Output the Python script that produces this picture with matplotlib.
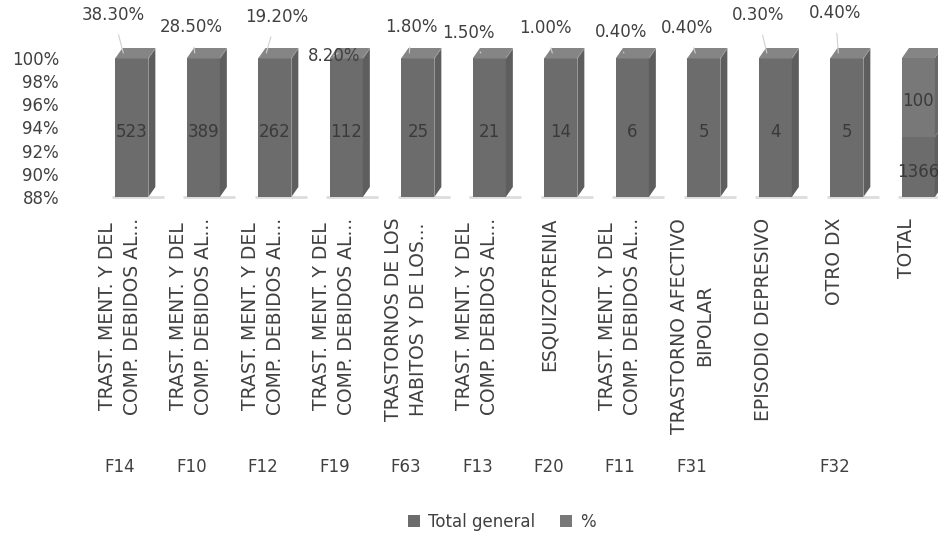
import matplotlib.pyplot as plt
import matplotlib.transforms as mtransforms
from matplotlib.patches import Polygon

plt.rcParams['font.family'] = ['DejaVu Sans']

# datos
categorias = ['TRAST. MENT. Y DEL\nCOMP. DEBIDOS AL...',
              'TRAST. MENT. Y DEL\nCOMP. DEBIDOS AL...',
              'TRAST. MENT. Y DEL\nCOMP. DEBIDOS AL...',
              'TRAST. MENT. Y DEL\nCOMP. DEBIDOS AL...',
              'TRASTORNOS DE LOS\nHABITOS Y DE LOS...',
              'TRAST. MENT. Y DEL\nCOMP. DEBIDOS AL...',
              'ESQUIZOFRENIA',
              'TRAST. MENT. Y DEL\nCOMP. DEBIDOS AL...',
              'TRASTORNO AFECTIVO\nBIPOLAR',
              'EPISODIO DEPRESIVO',
              'OTRO DX',
              'TOTAL']
codigos = ['F14', 'F10', 'F12', 'F19', 'F63', 'F13', 'F20', 'F11', 'F31', '', 'F32', '']
total_general = [523, 389, 262, 112, 25, 21, 14, 6, 5, 4, 5, 1366]
porcentaje = [0.383, 0.285, 0.192, 0.082, 0.018, 0.015, 0.010, 0.004, 0.004, 0.003, 0.004, 100]
series = ['Total general', '%']

# estilo / posiciones
col_tg = '#6c6c6c'
col_pct = '#787878'
txt = '#404040'
shift = 0.17        # desplazamiento de la barra 3D respecto a la categoria
ancho = 0.46
dx = 7 / 71.5
dy = 10 / 139 * 0.12
# posicion (px) de las etiquetas de % respecto al tope de la barra
off_pct = [(-10, 38), (-4, 26), (10, 36), (-4, -3), (2, 26), (-12, 20),
           (-7, 25), (-3, 21), (-8, 25), (-9, 38), (-3, 40)]

fig = plt.figure(figsize=(9.38, 5.35), dpi=100)
ax = fig.add_axes([84 / 938, (535 - 197) / 535, 858 / 938, 139 / 535])

n = len(categorias)
x = list(range(n))
xb = [i + shift for i in x]
frac_tg = [t / (t + p) for t, p in zip(total_general, porcentaje)]
frac_pct = [p / (t + p) for t, p in zip(total_general, porcentaje)]

b1 = ax.bar(xb, frac_tg, width=ancho, color=col_tg, label=series[0])
b2 = ax.bar(xb, frac_pct, bottom=frac_tg, width=ancho, color=col_pct, label=series[1])

ymin, ymax = 0.88, 1.0
ax.set_ylim(ymin, ymax)
ax.set_xlim(-0.5, n - 0.5)

# caras 3D (tapa y lateral)
for i in range(n):
    x0 = xb[i] - ancho / 2
    x1 = xb[i] + ancho / 2
    segs = [(ymin, max(ymin, frac_tg[i]), '#5e5e5e'), (max(ymin, frac_tg[i]), ymax, '#686868')]
    for lo, hi, c in segs:
        if hi > lo:
            ax.add_patch(Polygon([(x1, lo), (x1 + dx, lo + dy), (x1 + dx, hi + dy), (x1, hi)],
                                 closed=True, color=c, clip_on=False, lw=0))
    ax.add_patch(Polygon([(x0, ymax), (x1, ymax), (x1 + dx, ymax + dy), (x0 + dx, ymax + dy)],
                         closed=True, color='#858585', clip_on=False, lw=0))
    # sombra en el piso
    ax.plot([x0 - 0.05, x1 + dx + 0.12], [ymin, ymin], color='#dddddd', lw=2,
            clip_on=False, solid_capstyle='butt', zorder=0)

# etiquetas de datos
for i in range(n):
    ax.annotate(str(total_general[i]),
                xy=(xb[i], (ymin + frac_tg[i]) / 2 if frac_tg[i] < 0.999 else (ymin + ymax) / 2),
                xytext=(0, -5), textcoords='offset pixels',
                ha='center', va='center', fontsize=12, color='#3a3a3a')
    if porcentaje[i] < 1:
        ox, oy = off_pct[i]
        ax.annotate(f'{porcentaje[i]:.2%}', xy=(xb[i] - 0.12, ymax + dy * 0.5),
                    xytext=(ox, oy), textcoords='offset pixels',
                    ha='center', va='center', fontsize=12, color=txt,
                    arrowprops=dict(arrowstyle='-', color='#d0d0d0', lw=0.8,
                                    shrinkA=6, shrinkB=0),
                    annotation_clip=False)
    else:
        ax.annotate(f'{porcentaje[i]:g}', xy=(xb[i], (frac_tg[i] + ymax) / 2),
                    xytext=(0, -3), textcoords='offset pixels',
                    ha='center', va='center', fontsize=12, color='#3a3a3a')

# ejes
ax.set_yticks([0.88, 0.90, 0.92, 0.94, 0.96, 0.98, 1.00])
ax.set_yticklabels([f'{v:.0%}' for v in ax.get_yticks()], fontsize=12, color=txt)
off = mtransforms.ScaledTranslation(0, -6 / 100, fig.dpi_scale_trans)
for lab in ax.get_yticklabels():
    lab.set_transform(lab.get_transform() + off)
ax.set_xticks(x)
ax.set_xticklabels(categorias, rotation=90, fontsize=13.5, color=txt, linespacing=1.4)
ax.tick_params(axis='y', length=0, pad=18)
ax.tick_params(axis='x', length=0, pad=15)
for s in ax.spines.values():
    s.set_visible(False)

# segundo nivel de categorias
trans = mtransforms.blended_transform_factory(ax.transData, fig.transFigure)
for i in range(n):
    ax.text(x[i], (535 - 467) / 535, codigos[i], transform=trans, ha='center', va='center',
            fontsize=12, color=txt)

fig.legend(handles=[b1, b2], labels=series, loc='center', bbox_to_anchor=(0.535, 0.025),
           ncol=2, frameon=False, fontsize=12, handlelength=0.7, handleheight=0.7,
           handletextpad=0.5, columnspacing=1.5, labelcolor=txt)

fig.savefig('out.png', dpi=100)
